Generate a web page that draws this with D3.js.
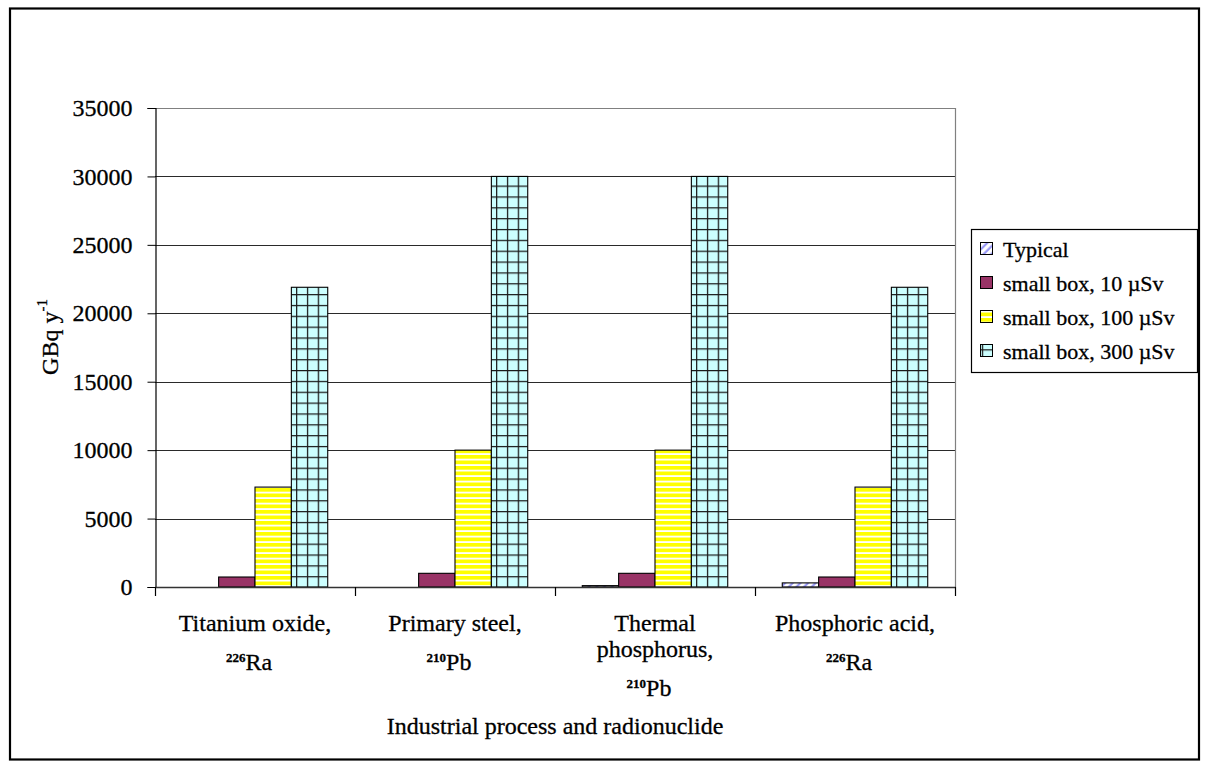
<!DOCTYPE html>
<html>
<head>
<meta charset="utf-8">
<script src="https://cdn.jsdelivr.net/npm/d3@7"></script>
<style>
  html, body { margin: 0; padding: 0; background: #fff; }
  svg { display: block; }
  text { font-family: "Liberation Serif", "Times New Roman", serif; fill: #000;
         stroke: #000; stroke-width: 0.3px; }
</style>
</head>
<body>
<svg id="chart" width="1208" height="766"></svg>
<script>
// Category label lines (followed by the radionuclide: mass number + symbol)
const categoryLines = [
  ["Titanium oxide,"],
  ["Primary steel,"],
  ["Thermal", "phosphorus,"],
  ["Phosphoric acid,"]
];
const categoryNuclides = [["226", "Ra"], ["210", "Pb"], ["210", "Pb"], ["226", "Ra"]];
const categories = ["Titanium oxide", "Primary steel", "Thermal phosphorus", "Phosphoric acid"];

const seriesNames = ["Typical", "small box, 10 \u00b5Sv", "small box, 100 \u00b5Sv", "small box, 300 \u00b5Sv"];
const typical  = [0, 0, 100, 300];
const box10    = [730, 1000, 1000, 730];
const box100   = [7300, 10000, 10000, 7300];
const box300   = [21900, 30000, 30000, 21900];
const yTicks   = [0, 5000, 10000, 15000, 20000, 25000, 30000, 35000];

const seriesValues = [typical, box10, box100, box300];
const seriesFill = ["url(#pTypical)", "#993366", "url(#pStripe)", "url(#pGrid)"];

const svg = d3.select("#chart");
const plot = { left: 155, right: 955, top: 108, bottom: 587 };
const FONT = 24;

// Fill patterns
const defs = svg.append("defs");
const hatch = defs.append("pattern").attr("id", "pTypical")
  .attr("patternUnits", "userSpaceOnUse").attr("width", 5.4).attr("height", 5.4)
  .attr("patternTransform", "rotate(45)");
hatch.append("rect").attr("width", 5.4).attr("height", 5.4).attr("fill", "#fff");
hatch.append("line").attr("x1", 1.5).attr("y1", 0).attr("x2", 1.5).attr("y2", 5.4)
  .attr("stroke", "#8f8ff5").attr("stroke-width", 2);

const stripe = defs.append("pattern").attr("id", "pStripe")
  .attr("patternUnits", "userSpaceOnUse").attr("width", 10).attr("height", 5.5)
  .attr("y", plot.bottom);
stripe.append("rect").attr("width", 10).attr("height", 5.5).attr("fill", "#fff");
stripe.append("rect").attr("width", 10).attr("height", 3.7).attr("fill", "#ffff00");

const grid = defs.append("pattern").attr("id", "pGrid")
  .attr("patternUnits", "userSpaceOnUse").attr("width", 10.85).attr("height", 10.85)
  .attr("y", plot.bottom);
grid.append("rect").attr("width", 10.85).attr("height", 10.85).attr("fill", "#ccffff");
grid.append("path").attr("d", "M0,0.6H10.85M0.6,0V10.85")
  .attr("stroke", "#1a1a1a").attr("stroke-width", 1.3).attr("fill", "none");

// Outer frame
svg.append("rect").attr("x", 10).attr("y", 8.5).attr("width", 1189).attr("height", 751)
  .attr("fill", "#fff").attr("stroke", "#000").attr("stroke-width", 2.2);

// Scales
const x0 = d3.scaleBand().domain(categories).range([plot.left, plot.right]).padding(0);
const x1 = d3.scaleBand().domain(seriesNames).range([0, x0.bandwidth()])
  .paddingInner(0).paddingOuter(0.75);
const y = d3.scaleLinear().domain([0, 35000]).range([plot.bottom, plot.top]);

// Gridlines
svg.append("g").selectAll("line").data(yTicks.filter(t => t > 0 && t < 35000)).join("line")
  .attr("x1", plot.left).attr("x2", plot.right)
  .attr("y1", d => Math.round(y(d)) + 0.5).attr("y2", d => Math.round(y(d)) + 0.5)
  .attr("stroke", "#2a2a2a").attr("stroke-width", 1);

// Plot area border (top and right)
svg.append("path")
  .attr("d", `M${plot.left},${Math.round(y(35000)) + 0.5}H${plot.right + 0.5}V${plot.bottom}`)
  .attr("fill", "none").attr("stroke", "#808080").attr("stroke-width", 1.2);

// Bars
const groups = svg.append("g").selectAll("g").data(categories).join("g")
  .attr("transform", d => `translate(${x0(d)},0)`);
groups.selectAll("rect")
  .data((d, i) => seriesNames.map((s, k) => ({ s, k, v: seriesValues[k][i] })).filter(e => e.v > 0))
  .join("rect")
  .attr("x", e => x1(e.s))
  .attr("width", x1.bandwidth())
  .attr("y", e => y(e.v))
  .attr("height", e => y(0) - y(e.v))
  .attr("fill", e => seriesFill[e.k])
  .attr("stroke", "#000").attr("stroke-width", 1.1);

// Y axis
const yAxis = svg.append("g").attr("transform", `translate(${plot.left + 0.5},0)`)
  .call(d3.axisLeft(y).tickValues(yTicks).tickSize(8).tickPadding(15).tickFormat(d3.format("d")));
yAxis.select(".domain").attr("stroke", "#000").attr("stroke-width", 1.2);
yAxis.selectAll(".tick line").attr("stroke", "#000");
yAxis.selectAll(".tick text").style("font-size", FONT + "px")
  .style("font-family", "'Liberation Serif', serif").attr("fill", "#000");

// X axis with ticks on category boundaries
svg.append("line").attr("x1", plot.left).attr("x2", plot.right + 1)
  .attr("y1", plot.bottom + 0.5).attr("y2", plot.bottom + 0.5)
  .attr("stroke", "#333").attr("stroke-width", 1.3);
const boundaries = categories.map(c => x0(c)).concat([x0.range()[1]]);
svg.append("g").selectAll("line").data(boundaries).join("line")
  .attr("x1", d => d + 0.5).attr("x2", d => d + 0.5)
  .attr("y1", plot.bottom).attr("y2", plot.bottom + 9)
  .attr("stroke", "#000").attr("stroke-width", 1.2);

// Category labels
const catLabels = svg.append("g").selectAll("g").data(categories).join("g")
  .attr("transform", d => `translate(${x0(d) + x0.bandwidth() / 2},0)`);
catLabels.each(function (d, i) {
  const g = d3.select(this);
  const lines = categoryLines[i];
  lines.forEach((ln, j) => {
    g.append("text").attr("y", 631 + j * 26).attr("text-anchor", "middle")
      .style("font-size", FONT + "px").text(ln);
  });
  const t = g.append("text").attr("x", -6).attr("y", 631 + (lines.length - 1) * 26 + 39)
    .attr("text-anchor", "middle").style("font-size", FONT + "px");
  t.append("tspan").attr("dy", -8).style("font-size", "13px").style("font-weight", "bold")
    .text(categoryNuclides[i][0]);
  t.append("tspan").attr("dy", 8).text(categoryNuclides[i][1]);
});

// Axis titles
svg.append("text").attr("x", 555).attr("y", 734).attr("text-anchor", "middle")
  .style("font-size", FONT + "px").text("Industrial process and radionuclide");

const yt = svg.append("text").attr("transform", "translate(58,337) rotate(-90)")
  .attr("text-anchor", "middle").style("font-size", FONT + "px");
yt.append("tspan").text("GBq y");
yt.append("tspan").attr("dy", -11).style("font-size", "15px").text("-1");

// Legend
const legend = svg.append("g").attr("transform", "translate(971,229)");
legend.append("rect").attr("x", 0.5).attr("y", 0.5).attr("width", 226).attr("height", 143)
  .attr("fill", "#fff").attr("stroke", "#000").attr("stroke-width", 1.2);
const items = legend.selectAll("g").data(seriesNames).join("g")
  .attr("transform", (d, i) => `translate(0,${28 + i * 34})`);
items.append("rect").attr("x", 9.5).attr("y", -14.5).attr("width", 12).attr("height", 12)
  .attr("fill", (d, i) => seriesFill[i]).attr("stroke", "#000").attr("stroke-width", 1);
items.append("text").attr("x", 32).attr("y", 0).style("font-size", "22px").text(d => d);
</script>
</body>
</html>
